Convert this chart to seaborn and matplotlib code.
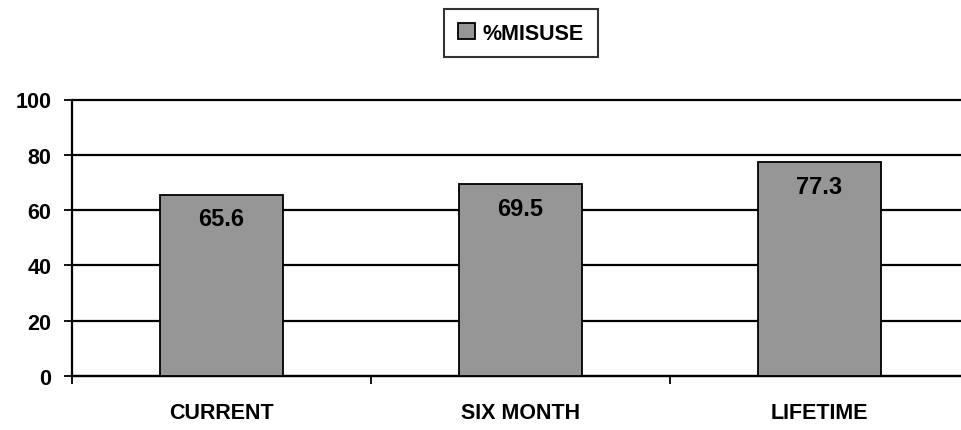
import pandas as pd
import seaborn as sns
from matplotlib import pyplot as plt

# data
categories = ["CURRENT", "SIX MONTH", "LIFETIME"]
misuse_pct = [65.6, 69.5, 77.3]
series_name = "%MISUSE"
y_ticks = [0, 20, 40, 60, 80, 100]

df = pd.DataFrame({"period": categories, "pct": misuse_pct})

sns.set_style("white")
plt.rcParams['font.family'] = ['Liberation Sans', 'DejaVu Sans']
plt.rcParams['font.weight'] = 'bold'
plt.rcParams['text.color'] = 'black'
plt.rcParams['xtick.color'] = 'black'
plt.rcParams['ytick.color'] = 'black'

fig = plt.figure(figsize=(9.61, 4.31), dpi=100)
# plot area runs slightly past the right edge, like the original
ax = fig.add_axes([72 / 961, 1 - 377 / 431, 897 / 961, 276.5 / 431])

sns.barplot(data=df, x="period", y="pct", color="#969696", edgecolor="black",
            linewidth=1.3, width=0.41, saturation=1, label=series_name, ax=ax,
            zorder=3)
if ax.get_legend() is not None:
    ax.get_legend().remove()

ax.set_xlim(-0.5, 2.5)
ax.set_ylim(0, 100)
ax.set_yticks(y_ticks)
ax.set_xlabel("")
ax.set_ylabel("")

# black horizontal gridlines
ax.yaxis.grid(True, color="black", linewidth=1.6)
for gl in ax.get_ygridlines():
    gl.set_clip_on(False)
ax.set_axisbelow(True)

for side in ["top", "right"]:
    ax.spines[side].set_visible(False)
for side in ["left", "bottom"]:
    ax.spines[side].set_color("black")
    ax.spines[side].set_linewidth(1.6)

ax.tick_params(axis="y", left=True, direction="out", length=6, width=1.3,
               color="black", labelcolor="black", pad=9, labelsize=15.5)
ax.tick_params(axis="x", which="major", bottom=True, length=0, pad=19,
               labelsize=15.5, labelcolor="black")
# category separators as minor ticks
ax.set_xticks([-0.5, 0.5, 1.5, 2.5], minor=True)
ax.tick_params(axis="x", which="minor", bottom=True, direction="out", length=6,
               width=1.3, color="black")
for lbl in ax.get_xticklabels() + ax.get_yticklabels():
    lbl.set_fontweight("bold")

# value labels just inside the top of each bar
for bar, val in zip(ax.containers[0], misuse_pct):
    ax.annotate(f"{val:.1f}", (bar.get_x() + bar.get_width() / 2, val),
                xytext=(0, -17.5), textcoords="offset points", ha="center",
                va="center", fontsize=17, fontweight="bold", color="black",
                zorder=4)

handles, labels = ax.get_legend_handles_labels()
leg = fig.legend(handles[:1], labels[:1], loc="center",
                 bbox_to_anchor=(521 / 961, 1 - 34 / 431),
                 fontsize=15.5, frameon=True, fancybox=False, edgecolor="black",
                 handlelength=0.8, handleheight=0.8, handletextpad=0.35,
                 borderpad=0.65, borderaxespad=0)
leg.get_frame().set_linewidth(1.5)
for t in leg.get_texts():
    t.set_fontweight("bold")
    t.set_color("black")

fig.savefig("out.png", dpi=100)
